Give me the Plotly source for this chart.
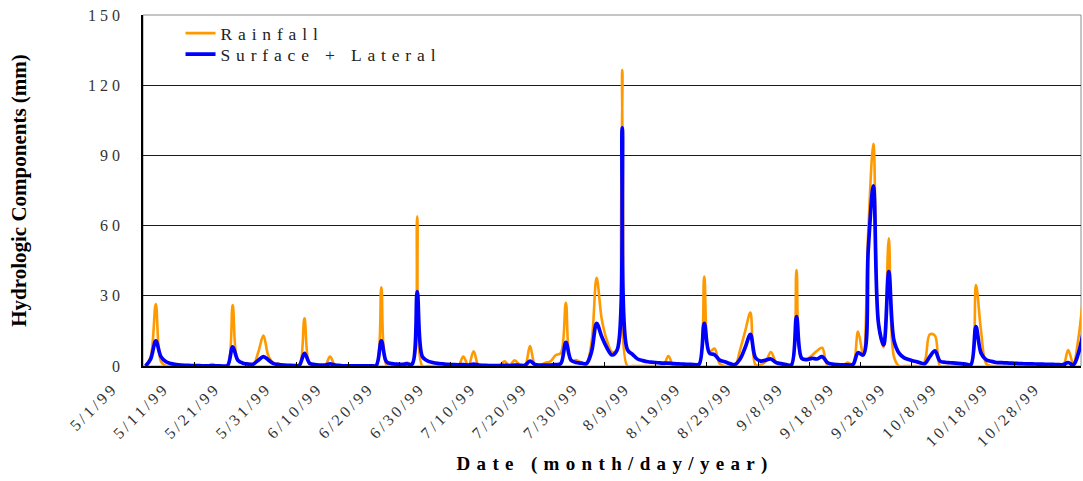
import pandas as pd
import plotly.graph_objects as go

# Daily series, 1 May 1999 through 31 Oct 1999 (mm)
dates = pd.date_range("1999-05-01", "1999-10-31", freq="D")

rainfall = [
    0, 4, 26.5, 2, 0, 0, 0, 0, 0, 0,                # May 1-10
    0, 0, 0, 0.8, 0, 0, 0, 26, 2, 1.2,              # May 11-20
    1.2, 0.5, 6, 13, 4, 1.2, 1, 0, 0, 0,            # May 21-30
    0, 20.4, 0.5, 0, 0, 0, 4, 0, 0, 0,              # May 31 - Jun 9
    0, 0, 0, 0, 0, 0, 33.6, 0.5, 0, 0,              # Jun 10-19
    0, 1.5, 0.5, 64, 0, 0, 0, 0, 0, 0,              # Jun 20-29
    0, 0, 4, 0, 6.3, 0, 0, 0, 0, 0,                 # Jun 30 - Jul 9
    2, 0.3, 2.4, 0.5, 0, 8.5, 0.5, 0.3, 1.4, 2,     # Jul 10-19
    4.6, 5.5, 27, 2, 2.5, 1.5, 1.2, 10, 37.7, 20,   # Jul 20-29
    11, 6, 7, 126.5, 0, 0, 0, 0, 0, 0,              # Jul 30 - Aug 8
    0, 0, 4.3, 0, 0, 0, 0, 0, 0.5, 38.2,            # Aug 9-18
    6, 7.5, 1, 0, 0, 0, 7, 15, 22.8, 0.5,           # Aug 19-28
    0.5, 2, 6, 1.5, 0, 0, 0, 41, 3, 3,              # Aug 29 - Sep 7
    4.5, 6.5, 7.8, 0.5, 0, 0, 0, 1.5, 0.5, 14.7,    # Sep 8-17
    5, 58, 95, 18, 8, 54.6, 4, 0, 0, 0,             # Sep 18-27
    0, 0, 2, 13.5, 13, 0, 0, 0, 0, 0,               # Sep 28 - Oct 7
    0, 0, 34.6, 15, 1, 0, 0, 0, 0, 0,               # Oct 8-17
    0, 0, 0, 0, 0, 0, 0, 0, 0, 0,                   # Oct 18-27
    6.8, 1, 12, 32,                                 # Oct 28-31
]

surface_lateral = [
    0, 3, 10.7, 4, 1.8, 1, 0.6, 0.4, 0.3, 0.2,
    0.2, 0.1, 0.1, 0.1, 0.1, 0, 0.2, 8.2, 2.5, 1.2,
    0.8, 0.8, 2.5, 4, 2.5, 1, 0.6, 0.4, 0.3, 0.2,
    0.3, 5.4, 1.2, 0.6, 0.4, 0.4, 0.9, 0.4, 0.2, 0.1,
    0.1, 0.1, 0.1, 0.1, 0.1, 0.2, 10.7, 1.8, 1, 0.8,
    0.7, 0.9, 0.8, 31.8, 4, 2.2, 1.5, 1.1, 0.9, 0.7,
    0.6, 0.5, 0.6, 0.4, 0.8, 0.4, 0.3, 0.2, 0.2, 0.2,
    0.3, 0.2, 0.4, 0.3, 0.3, 2.1, 0.6, 0.4, 0.4, 0.4,
    0.6, 1, 10.1, 2.5, 1.5, 1.2, 1, 6, 18.2, 12.5,
    7.8, 4.7, 6.8, 101.8, 7, 5, 3, 2.3, 1.8, 1.6,
    1.4, 1.2, 1.2, 1, 0.9, 0.8, 0.7, 0.6, 0.8, 18.2,
    5.5, 4.8, 2.5, 1.8, 1, 0.6, 3, 8, 13.5, 3.5,
    2.1, 2.5, 3, 1.5, 1, 0.6, 0.5, 21.1, 3.3, 2.7,
    3.3, 3, 4, 1.5, 0.8, 0.6, 0.5, 0.5, 0.6, 5.7,
    4.7, 50, 77, 18, 9, 40.3, 11, 5.5, 3.5, 2.7,
    2, 1.5, 1, 4, 6.5, 2.1, 1.6, 1.4, 1.2, 1,
    0.8, 0.6, 16.8, 5.5, 2.7, 2, 1.5, 1.4, 1.3, 1.2,
    1.1, 1, 0.9, 0.9, 0.8, 0.8, 0.7, 0.7, 0.6, 0.6,
    1.5, 0.5, 5.5, 15,
]

tick_labels = ["5/1/99", "5/11/99", "5/21/99", "5/31/99", "6/10/99", "6/20/99",
               "6/30/99", "7/10/99", "7/20/99", "7/30/99", "8/9/99", "8/19/99",
               "8/29/99", "9/8/99", "9/18/99", "9/28/99", "10/8/99", "10/18/99",
               "10/28/99"]
y_ticks = [0, 30, 60, 90, 120, 150]

SERIF = "Liberation Serif"
WIDE = "\u2004"   # three-per-em space for the widely spaced titles
THIN = "\u2009"   # thin space for the date labels


def spaced(text, sep=WIDE):
    """Letter-space a label the way the chart's typeface renders it."""
    return sep.join(text)


# Each day occupies one slot; ticks sit on the slot boundaries.
half_day = pd.Timedelta(hours=12)
x_start = dates[0] - half_day
x_end = dates[-2] + half_day
tick_pos = [x_start + pd.Timedelta(days=10 * k) for k in range(len(tick_labels))]

fig = go.Figure()
fig.add_trace(go.Scatter(
    x=dates, y=rainfall, name=spaced("Rainfall"), mode="lines", legend="legend",
    line=dict(color="#FF9900", width=2.6, shape="spline", smoothing=1.0),
))
fig.add_trace(go.Scatter(
    x=dates, y=surface_lateral, name=spaced("Surface + Lateral"), mode="lines",
    legend="legend2",
    line=dict(color="#0000FF", width=3.7, shape="spline", smoothing=1.0),
))

legend_style = dict(
    x=0.040, xanchor="left", yanchor="middle",
    bgcolor="rgba(0,0,0,0)", font=dict(size=17.5, family=SERIF, color="#222"),
    itemwidth=30,
)

fig.update_layout(
    width=1083, height=481,
    margin=dict(l=143, r=2, t=15, b=115),
    paper_bgcolor="white", plot_bgcolor="white",
    font=dict(family=SERIF, color="#222"),
    showlegend=True,
    legend=dict(y=0.948, **legend_style),
    legend2=dict(y=0.888, **legend_style),
    shapes=[dict(type="rect", xref="paper", yref="paper", x0=0, y0=0, x1=1, y1=1,
                 line=dict(color="#8c8c8c", width=1), layer="below")],
)

fig.update_xaxes(
    type="date", range=[x_start, x_end], automargin=False,
    tickmode="array", tickvals=tick_pos,
    ticktext=[spaced(t, THIN) for t in tick_labels],
    tickangle=-45, tickfont=dict(size=16, family=SERIF, color="#333"),
    ticks="inside", ticklen=4, tickcolor="black",
    ticklabelshift=-32, ticklabelstandoff=7,
    showgrid=False, showline=True, linecolor="black", linewidth=1.5,
    zeroline=False,
    title=dict(text=spaced("Date (month/day/year)"),
               font=dict(size=19, family=SERIF, color="black", weight="bold"),
               standoff=8),
)

fig.update_yaxes(
    range=[0, 150], automargin=False, tickmode="array", tickvals=y_ticks,
    ticktext=[spaced(str(v), " ") for v in y_ticks],
    tickfont=dict(size=16, family=SERIF, color="#333"),
    ticks="", ticklabelstandoff=18,
    showgrid=True, gridcolor="#1a1a1a", gridwidth=1,
    showline=True, linecolor="black", linewidth=1.5, zeroline=False,
    title=dict(text="Hydrologic Components (mm)",
               font=dict(size=21, family=SERIF, color="black", weight="bold"),
               standoff=56),
)

fig.write_html("out.html")
